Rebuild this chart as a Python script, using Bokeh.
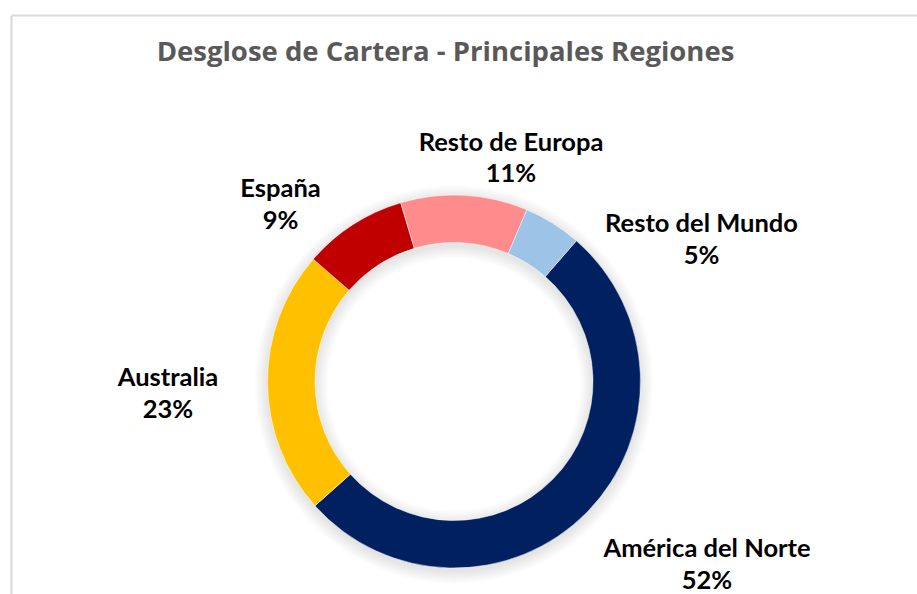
import math
from bokeh.plotting import figure
from bokeh.models import Range1d, ColumnDataSource
from bokeh.core.properties import value
from bokeh.embed import file_html
from bokeh.resources import INLINE

# ---- data ----
regions = ["América del Norte", "Australia", "España", "Resto de Europa", "Resto del Mundo"]
shares = [52, 23, 9, 11, 5]
colors = ["#002060", "#FFC000", "#C00000", "#FF8C8C", "#9DC3E6"]
title_text = "Desglose de Cartera - Principales Regiones"

# ---- layout ----
W, H = 917, 594
CX_PAGE, CY_PAGE = 453.5, 381.0          # donut centre on the page
R_OUT, R_IN = 186.5, 139.0
FIRST_SLICE = 41.0                        # degrees clockwise from 12 o'clock
# label block centres, offsets (px) from donut centre, y up
label_offsets = [(253, -183), (-286, -12), (-173.5, 177), (57, 223.5), (247.5, 142)]
LINE_GAP = 31.4
TEXT_SHIFT = 10.5
FONT = "Lato"

p = figure(width=W, height=H, output_backend="svg", toolbar_location=None,
           x_range=Range1d(-CX_PAGE, W - CX_PAGE),
           y_range=Range1d(CY_PAGE - H, CY_PAGE),
           min_border=0)
p.axis.visible = False
p.grid.visible = False
p.outline_line_color = None
p.background_fill_color = "white"
p.border_fill_color = "white"

# chart frame (light grey border, top and left visible)
top_y = CY_PAGE - 15
left_x = 11 - CX_PAGE
p.line([left_x, W - CX_PAGE], [top_y, top_y], line_color="#d9d9d9", line_width=2)
p.line([left_x, left_x], [top_y, CY_PAGE - H], line_color="#d9d9d9", line_width=2)

# soft shadow
for k in range(1, 14):
    p.annulus(x=0, y=-3, inner_radius=R_IN - k, outer_radius=R_OUT + k,
              fill_color="black", fill_alpha=0.009, line_color=None)

# wedges: clockwise from FIRST_SLICE
total = float(sum(shares))
starts, ends = [], []
acc = FIRST_SLICE
for s in shares:
    a0 = acc
    a1 = acc + 360.0 * s / total
    starts.append(math.radians(90 - a0))
    ends.append(math.radians(90 - a1))
    acc = a1

src = ColumnDataSource(dict(start=starts, end=ends, color=colors))
p.annular_wedge(x=0, y=0, inner_radius=R_IN, outer_radius=R_OUT,
                start_angle="start", end_angle="end", direction="clock",
                fill_color="color", line_color="white", line_width=0.5, source=src)

# labels
lx = [o[0] for o in label_offsets]
ly = [o[1] for o in label_offsets]
name_y = [y + LINE_GAP / 2 - 8.8 + TEXT_SHIFT for y in ly]
pct_y = [y - LINE_GAP / 2 - 8.8 + TEXT_SHIFT for y in ly]
pcts = [f"{v}%" for v in shares]
p.text(x=lx, y=name_y, text=regions, text_align="center", text_baseline="alphabetic",
       text_font=value(FONT), text_font_style="bold", text_font_size="25.5px", text_color="#000000")
p.text(x=lx, y=pct_y, text=pcts, text_align="center", text_baseline="alphabetic",
       text_font=value(FONT), text_font_style="bold", text_font_size="25.5px", text_color="#000000")

# title
p.text(x=[445 - CX_PAGE], y=[CY_PAGE - 60 + TEXT_SHIFT], text=[title_text], text_align="center",
       text_baseline="alphabetic", text_font=value("Open Sans"), text_font_style="bold",
       text_font_size="27.5px", text_color="#595959")

open("out.html", "w").write(file_html(p, INLINE))
